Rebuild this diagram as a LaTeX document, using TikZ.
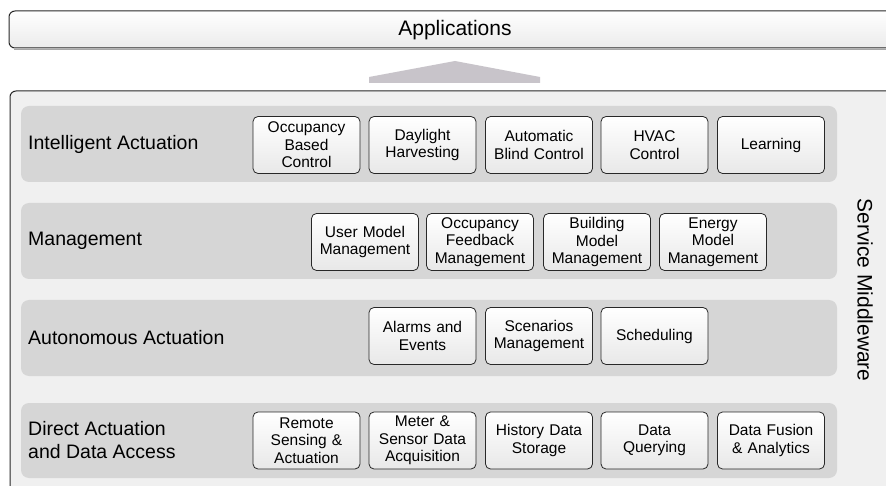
\documentclass[tikz,border=0pt]{standalone}
\usepackage{fontspec}
\setmainfont{Liberation Sans}
\definecolor{bandgray}{RGB}{214,214,214}
\definecolor{panelgray}{RGB}{240,240,240}
\definecolor{arrowgray}{RGB}{200,196,202}
\definecolor{edgegray}{RGB}{40,40,40}
\begin{document}
\begin{tikzpicture}[x=1pt,y=-1pt,
  band/.style={fill=bandgray, draw=none, rounded corners=8pt},
  svc/.style={draw=edgegray, line width=0.8pt, rounded corners=5pt,
    top color=white, bottom color=black!9, minimum width=107pt,
    minimum height=57pt, text width=103pt, align=center, inner sep=1pt,
    font=\fontsize{15.5}{17.5}\selectfont},
  layer/.style={anchor=west, align=left, inner sep=0pt,
    font=\fontsize{19.5}{23}\selectfont},
  panel/.style={draw=edgegray, line width=1pt, rounded corners=6pt}]
\clip (0,0) rectangle (886,486);
\fill[white] (0,0) rectangle (886,486);
% Applications
\draw[panel, top color=white, bottom color=black!8] (9,11) rectangle (900,48);
\draw[black!35, line width=1pt] (14,49.5) -- (900,49.5);
\node[font=\fontsize{21}{24}\selectfont] (app) at (455,30) {Applications};
% arrow
\fill[arrowgray] (369,83) -- (369,77) -- (455,61) -- (540,77) -- (540,83) -- cycle;
% main panel
\draw[panel, fill=panelgray] (10,91) rectangle (900,520);
% bands
\fill[band] (21,106) rectangle (837,182);
\fill[band] (21,203) rectangle (837,279);
\fill[band] (21,300) rectangle (837,376);
\fill[band] (21,403) rectangle (837,478);
% layer labels
\node[layer] (l1) at (28,144) {Intelligent Actuation};
\node[layer] (l2) at (28,241) {Management};
\node[layer] (l3) at (28,338) {Autonomous Actuation};
\node[layer] (l4) at (28,440.5) {Direct Actuation\\and Data Access};
% row 1
\node[svc] (occ) at (306.5,145) {Occupancy\\Based\\Control};
\node[svc] (day) at (422.5,145) {Daylight\\Harvesting};
\node[svc] (abc) at (539,145) {Automatic\\Blind Control};
\node[svc] (hvac) at (654.5,145) {HVAC\\Control};
\node[svc] (learn) at (771,145) {Learning};
% row 2
\node[svc] (umm) at (365,242) {User Model\\Management};
\node[svc] (ofm) at (480,242) {Occupancy\\Feedback\\Management};
\node[svc] (bmm) at (597,242) {Building\\Model\\Management};
\node[svc] (emm) at (713,242) {Energy\\Model\\Management};
% row 3
\node[svc] (alarm) at (422.5,336) {Alarms and\\Events};
\node[svc] (scen) at (539,336) {Scenarios\\Management};
\node[svc] (sched) at (654.5,336) {Scheduling};
% row 4
\node[svc] (rsa) at (306.5,440.5) {Remote\\Sensing \&\\Actuation};
\node[svc] (msd) at (422.5,440.5) {Meter \&\\Sensor Data\\Acquisition};
\node[svc] (hds) at (539,440.5) {History Data\\Storage};
\node[svc] (dq) at (654.5,440.5) {Data\\Querying};
\node[svc] (dfa) at (771,440.5) {Data Fusion\\\& Analytics};
% service middleware
\node[rotate=-90, font=\fontsize{21}{24}\selectfont] (sm) at (865,290) {Service Middleware};
\end{tikzpicture}
\end{document}
